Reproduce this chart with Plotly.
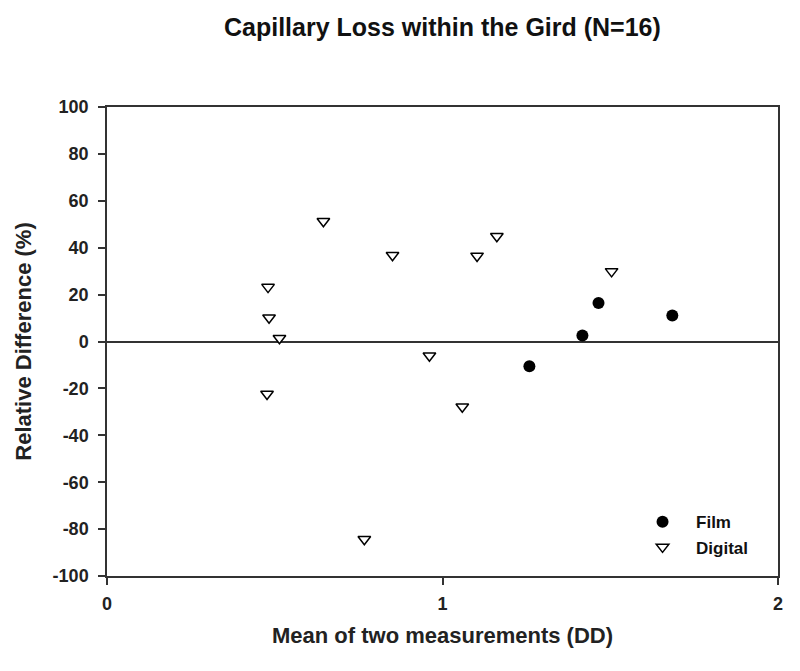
import plotly.graph_objects as go

# Data
film_x = [1.259, 1.417, 1.465, 1.685]
film_y = [-10.6, 2.6, 16.4, 11.1]

digital_x = [0.480, 0.483, 0.514, 0.477, 0.645, 0.767, 0.851, 0.961, 1.059, 1.103, 1.162, 1.504]
digital_y = [23.2, 10.1, 1.4, -22.4, 51.3, -84.3, 36.8, -6.1, -27.8, 36.5, 44.9, 29.9]

x_ticks = [0, 1, 2]
y_ticks = [-100, -80, -60, -40, -20, 0, 20, 40, 60, 80, 100]

title_text = "Capillary Loss within the Gird (N=16)"
x_title = "Mean of two measurements (DD)"
y_title = "Relative Difference (%)"

FONT = "Liberation Sans, Arial, sans-serif"

fig = go.Figure()
fig.add_trace(go.Scatter(
    x=film_x, y=film_y, mode="markers", name="Film",
    marker=dict(symbol="circle", size=12, color="black", line=dict(width=0)),
))
fig.add_trace(go.Scatter(
    x=digital_x, y=digital_y, mode="markers", name="Digital",
    marker=dict(symbol="triangle-down", size=11, color="white",
                line=dict(width=1.5, color="black")),
))

fig.update_layout(
    width=800, height=671,
    paper_bgcolor="white", plot_bgcolor="white",
    margin=dict(l=99, r=30, t=99, b=103),
    font=dict(family=FONT, color="black", size=18, weight="bold"),
    title=dict(text=title_text, x=0.543, xanchor="center", y=0.972, yanchor="middle",
               font=dict(family=FONT, size=25, color="#111", weight="bold")),
    showlegend=True,
    legend=dict(x=0.778, y=0.153, xanchor="left", yanchor="top",
                bgcolor="rgba(0,0,0,0)", borderwidth=0,
                font=dict(family=FONT, size=17, color="#111", weight="bold"),
                tracegroupgap=0, itemwidth=57),
)

fig.update_xaxes(
    range=[0, 2], tickvals=x_ticks, ticktext=[str(v) for v in x_ticks],
    showgrid=False, zeroline=False,
    showline=True, linecolor="#333", linewidth=1.5, mirror=True,
    ticks="outside", ticklen=7, tickcolor="#333", tickwidth=1.5,
    ticklabelstandoff=4,
    tickfont=dict(family=FONT, size=18, color="#222", weight="bold"),
    title=dict(text=x_title, standoff=14,
               font=dict(family=FONT, size=22, color="#222", weight="bold")),
)
fig.update_yaxes(
    range=[-100, 100], tickvals=y_ticks, ticktext=[str(v) for v in y_ticks],
    showgrid=False, zeroline=True, zerolinecolor="#333", zerolinewidth=1.5,
    showline=True, linecolor="#333", linewidth=1.5, mirror=True,
    ticks="outside", ticklen=7, tickcolor="#333", tickwidth=1.5,
    ticklabelstandoff=6,
    tickfont=dict(family=FONT, size=18, color="#222", weight="bold"),
    title=dict(text=y_title, standoff=15,
               font=dict(family=FONT, size=22, color="#222", weight="bold")),
)

fig.write_html("out.html")
